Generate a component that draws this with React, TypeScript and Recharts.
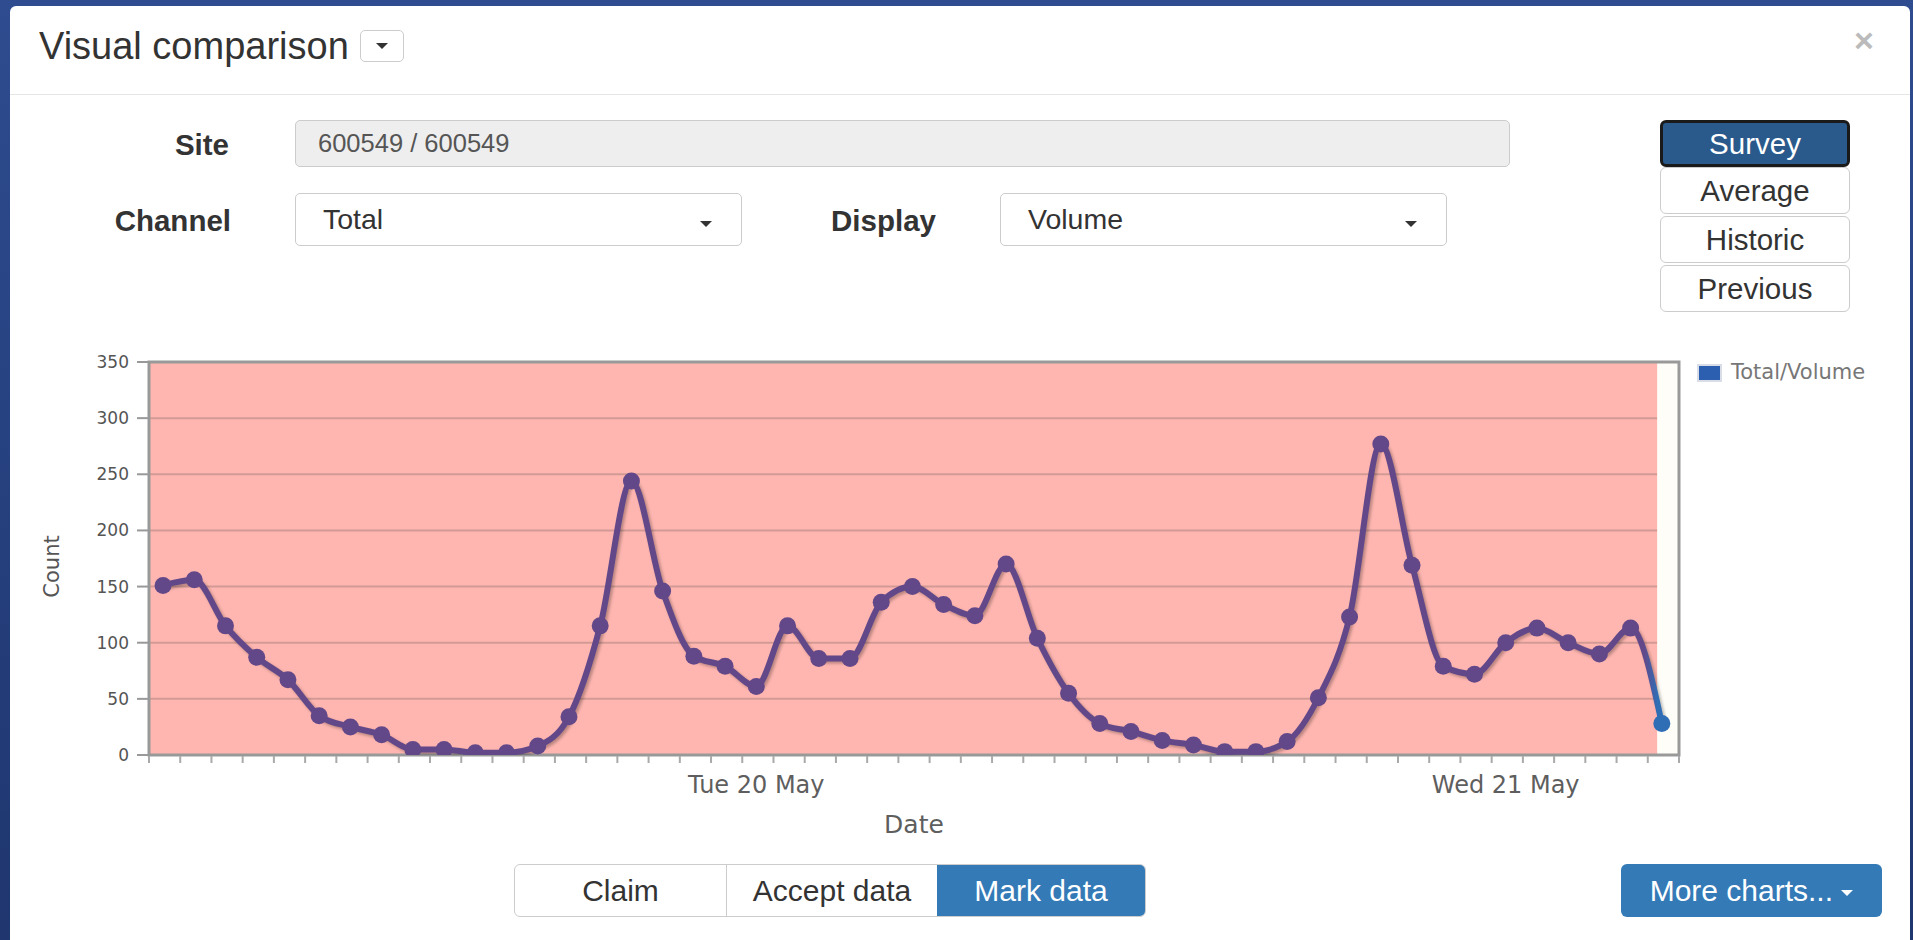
import React from "react";
import {
  LineChart, Line, XAxis, YAxis, CartesianGrid, ReferenceArea
} from "recharts";

// hourly counts, Mon 19 May 05:00 -> Wed 21 May 05:00
const counts = [
  151, 156, 115, 87, 67, 35, 25, 18, 5, 5, 2, 2, 8, 34, 115, 244, 146, 88, 79, 61,
  115, 86, 86, 136, 150, 134, 124, 170, 104, 55, 28, 21, 13, 9, 3, 3, 12, 51, 123,
  277, 169, 79, 72, 100, 113, 100, 90, 113, 28,
];
const dayLabels = [
  { idx: 19, label: "Tue 20 May" },
  { idx: 43, label: "Wed 21 May" },
];
const yTicks = [0, 50, 100, 150, 200, 250, 300, 350];
const xMin = -0.45;
const xMax = 48.55;
const surveyEnd = 47.85;

const data = counts.map((v, i) => ({ idx: i, count: v }));
const minorTicks = Array.from({ length: 50 }, (_, k) => k + xMin);
const xTicks = [...minorTicks, ...dayLabels.map((d) => d.idx)];

const PURPLE = "#634889";
const BLUE = "#2f6db5";
const CHART_FONT = "'DejaVu Sans', Verdana, sans-serif";

const DateTick = (props: any) => {
  const { x, y, payload } = props;
  const lab = dayLabels.find((d) => d.idx === payload.value);
  if (lab) {
    return (
      <text x={x} y={y + 38} textAnchor="middle" fontSize={24} fill="#5e5e5e" fontFamily={CHART_FONT}>
        {lab.label}
      </text>
    );
  }
  return <line x1={x} x2={x} y1={y + 1} y2={y + 8} stroke="#aaa" strokeWidth={2} />;
};

const Caret = ({ color = "#333", size = 6 }: { color?: string; size?: number }) => (
  <span
    style={{
      display: "inline-block", width: 0, height: 0, verticalAlign: "middle",
      borderTop: `${size}px solid ${color}`,
      borderLeft: `${size}px solid transparent`,
      borderRight: `${size}px solid transparent`,
    }}
  />
);

const abs = (l: number, t: number, w: number, h: number): React.CSSProperties => ({
  position: "absolute", left: l, top: t, width: w, height: h, boxSizing: "border-box",
});

const labelStyle = (right: number, cy: number): React.CSSProperties => ({
  position: "absolute", left: right - 200, top: cy - 20, width: 200, height: 40,
  lineHeight: "40px", textAlign: "right", fontWeight: "bold", fontSize: 29.5, color: "#333",
});

const selectBox = (l: number, text: string) => (
  <div style={{ ...abs(l, 193, 447, 53), border: "1px solid #ccc", borderRadius: 5, background: "#fff" }}>
    <span style={{ position: "absolute", left: 27, top: 0, lineHeight: "51px", fontSize: 28.5, color: "#333" }}>{text}</span>
    <span style={{ position: "absolute", right: 29, top: 20 }}><Caret /></span>
  </div>
);

const sideButton = (t: number, text: string, active = false) => (
  <div
    style={{
      ...abs(1660, t, 190, 47), borderRadius: 6, textAlign: "center", lineHeight: active ? "41px" : "45px",
      fontSize: 29.5, background: active ? "#2a5a8c" : "#fff", color: active ? "#fff" : "#333",
      border: active ? "3px solid #1a1a1a" : "1px solid #ccc",
    }}
  >
    {text}
  </div>
);

export default function App() {
  return (
    <div
      style={{
        position: "fixed", left: 0, top: 0, width: 1913, height: 940, overflow: "hidden",
        background: "linear-gradient(#2e4c8f, #1f366f)", fontFamily: "'Liberation Sans', Arial, sans-serif",
      }}
    >
      <style>{`.recharts-line .recharts-curve { filter: drop-shadow(2px 2px 1.5px rgba(0,0,0,0.28)); }`}</style>
      <div style={{ ...abs(10, 6, 1900, 960), background: "#fff", borderRadius: "6px 6px 0 0" }} />

      {/* header */}
      <div style={{ position: "absolute", left: 39, top: 25, lineHeight: "42px", fontSize: 38, color: "#333" }}>
        Visual comparison
      </div>
      <div style={{ ...abs(360, 30, 44, 32), border: "1px solid #ccc", borderRadius: 5, textAlign: "center", lineHeight: "28px" }}>
        <Caret size={6} />
      </div>
      <div style={{ position: "absolute", left: 1854, top: 20, fontSize: 34, fontWeight: "bold", color: "#bbb", lineHeight: "40px" }}>
        ×
      </div>
      <div style={{ ...abs(10, 94, 1900, 1), background: "#e5e5e5" }} />

      {/* form */}
      <div style={labelStyle(229, 145)}>Site</div>
      <div style={{ ...abs(295, 120, 1215, 47), background: "#eee", border: "1px solid #ccc", borderRadius: 5 }}>
        <span style={{ position: "absolute", left: 22, top: 0, lineHeight: "45px", fontSize: 25.5, color: "#555" }}>
          600549 / 600549
        </span>
      </div>
      <div style={labelStyle(231, 221)}>Channel</div>
      {selectBox(295, "Total")}
      <div style={labelStyle(936, 221)}>Display</div>
      {selectBox(1000, "Volume")}

      {sideButton(120, "Survey", true)}
      {sideButton(167, "Average")}
      {sideButton(216, "Historic")}
      {sideButton(265, "Previous")}

      {/* chart */}
      <div style={{ position: "absolute", left: 0, top: 300, width: 1913, height: 560 }}>
        <LineChart
          width={1913}
          height={560}
          data={data}
          margin={{ top: 62, right: 234, left: 89, bottom: 30 }}
        >
          <defs>
            <linearGradient id="lineGrad" x1="0" y1="0" x2="1" y2="0">
              <stop offset="0.988" stopColor={PURPLE} />
              <stop offset="0.997" stopColor={BLUE} />
            </linearGradient>
          </defs>
          <CartesianGrid vertical={false} stroke="#d39a95" strokeWidth={2} fill="#ffb6b0" fillOpacity={1} />
          <ReferenceArea x1={surveyEnd} x2={xMax} y1={0} y2={350} fill="#fffdf7" fillOpacity={1} stroke="none" />
          <XAxis
            dataKey="idx"
            type="number"
            domain={[xMin, xMax]}
            allowDataOverflow
            ticks={xTicks}
            interval={0}
            tick={<DateTick />}
            tickLine={false}
            tickSize={0}
            tickMargin={0}
            axisLine={false}
            height={75}
            label={{
              content: (p: any) => {
                const vb = p.viewBox;
                return (
                  <text x={vb.x + vb.width / 2} y={vb.y + 78} textAnchor="middle" fontSize={25} fill="#5e5e5e" fontFamily={CHART_FONT}>
                    Date
                  </text>
                );
              },
            }}
          />
          <YAxis
            type="number"
            domain={[0, 350]}
            allowDataOverflow
            ticks={yTicks}
            interval={0}
            width={60}
            axisLine={false}
            tickSize={12}
            tickMargin={8}
            tickLine={{ stroke: "#999", strokeWidth: 2 }}
            tick={{ fontSize: 17, fill: "#555", fontFamily: CHART_FONT }}
            label={{
              content: (p: any) => {
                const vb = p.viewBox;
                const cx = vb.x - 37;
                const cy = vb.y + vb.height / 2 + 8;
                return (
                  <text
                    x={cx} y={cy} transform={`rotate(-90 ${cx} ${cy})`} textAnchor="middle"
                    dominantBaseline="central" fontSize={21} fill="#555" fontFamily={CHART_FONT}
                  >
                    Count
                  </text>
                );
              },
            }}
          />
          <ReferenceArea x1={xMin} x2={xMax} y1={0} y2={350} fill="none" stroke="#999" strokeWidth={3} />
          <Line
            type="monotone"
            dataKey="count"
            name="Total/Volume"
            stroke="url(#lineGrad)"
            strokeWidth={6}
            isAnimationActive={false}
            dot={(p: any) => (
              <circle
                key={`d${p.index}`}
                cx={p.cx}
                cy={p.cy}
                r={8.5}
                fill={p.index === counts.length - 1 ? BLUE : PURPLE}
              />
            )}
            activeDot={false}
          />
        </LineChart>
      </div>

      {/* legend */}
      <div style={{ ...abs(1697, 364, 25, 18), background: "#2c5fb0", border: "2px solid #d8dde8" }} />
      <div style={{ position: "absolute", left: 1731, top: 360, lineHeight: "24px", fontSize: 21, color: "#777", fontFamily: CHART_FONT }}>
        Total/Volume
      </div>

      {/* footer buttons */}
      <div style={{ ...abs(514, 864, 632, 53), border: "1px solid #ccc", borderRadius: 6, overflow: "hidden", display: "flex", fontSize: 30 }}>
        <div style={{ width: 211, textAlign: "center", lineHeight: "51px", color: "#333", borderRight: "1px solid #ccc" }}>Claim</div>
        <div style={{ width: 210, textAlign: "center", lineHeight: "51px", color: "#333" }}>Accept data</div>
        <div style={{ flex: 1, textAlign: "center", lineHeight: "51px", color: "#fff", background: "#337ab7" }}>Mark data</div>
      </div>
      <div
        style={{
          ...abs(1621, 864, 261, 53), background: "#337ab7", borderRadius: 6, color: "#fff",
          fontSize: 30, textAlign: "center", lineHeight: "53px",
        }}
      >
        More charts... <Caret color="#fff" size={6} />
      </div>
    </div>
  );
}
